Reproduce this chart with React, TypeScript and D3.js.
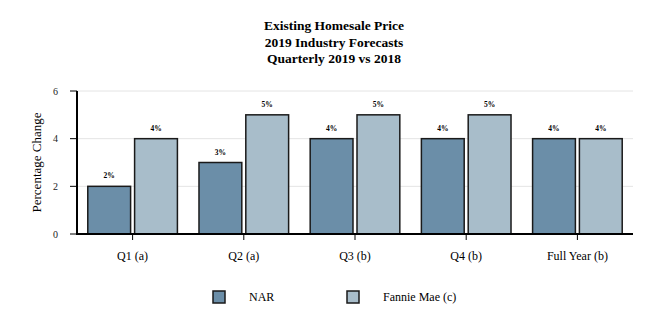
import React from "react";
import * as d3 from "d3";

const categories = ["Q1 (a)", "Q2 (a)", "Q3 (b)", "Q4 (b)", "Full Year (b)"];
const seriesNames = ["NAR", "Fannie Mae (c)"];
const narValues = [2, 3, 4, 4, 4];
const fannieValues = [4, 5, 5, 5, 4];
const yTicks = [0, 2, 4, 6];
const titleLines = ["Existing Homesale Price", "2019 Industry Forecasts", "Quarterly 2019 vs 2018"];
const colors = ["#6b8ea8", "#a8bdca"];

const W = 666, H = 333;
const left = 77, right = 633, top = 91, bottom = 234;
const font = "'Liberation Serif', 'Times New Roman', serif";

export default function App() {
  const x = d3.scaleBand<string>().domain(categories).range([left, right]).paddingInner(0).paddingOuter(0);
  const y = d3.scaleLinear().domain([0, 6]).range([bottom, top]);
  const bw = x.bandwidth();
  const barW = bw * 0.385;
  const gap = bw * 0.036;
  const series = [narValues, fannieValues];
  return (
    <svg width={W} height={H} style={{ position: "absolute", left: 0, top: 0, background: "#fff" }} fontFamily={font}>
      {titleLines.map((t, i) => (
        <text key={i} x={334} y={30 + i * 16.5} textAnchor="middle" fontWeight="bold" fontSize={13.5}>{t}</text>
      ))}
      {yTicks.filter(v => v > 0).map(v => (
        <line key={v} x1={left} x2={right} y1={y(v)} y2={y(v)} stroke="#e4e4e4" strokeWidth={1} />
      ))}
      {yTicks.map(v => (
        <g key={v}>
          <line x1={left - 7} x2={left} y1={y(v)} y2={y(v)} stroke="#000" strokeWidth={1} />
          <text x={left - 19} y={y(v) + 3.5} textAnchor="end" fontSize={10} fill="#222">{v}</text>
        </g>
      ))}
      {categories.map((c, i) => {
        const cx = x(c)! + bw / 2;
        return (
          <g key={c}>
            {series.map((vals, s) => {
              const bx = s === 0 ? cx - gap / 2 - barW : cx + gap / 2;
              return (
                <g key={s}>
                  <rect x={bx} y={y(vals[i])} width={barW} height={bottom - y(vals[i])} fill={colors[s]} stroke="#1a1a1a" strokeWidth={1.5} />
                  <text x={bx + barW / 2} y={y(vals[i]) - 8} textAnchor="middle" fontSize={7.5} fontWeight="bold">{vals[i]}%</text>
                </g>
              );
            })}
            <line x1={cx} x2={cx} y1={bottom} y2={bottom + 6} stroke="#000" strokeWidth={1} />
            <text x={cx} y={bottom + 26} textAnchor="middle" fontSize={12}>{c}</text>
          </g>
        );
      })}
      <line x1={left} x2={left} y1={top} y2={bottom} stroke="#000" strokeWidth={2} />
      <line x1={left - 1} x2={right} y1={bottom} y2={bottom} stroke="#000" strokeWidth={2} />
      <text transform={`translate(41,${(top + bottom) / 2}) rotate(-90)`} textAnchor="middle" fontSize={13}>Percentage Change</text>
      {seriesNames.map((n, i) => {
        const lx = i === 0 ? 213 : 347;
        return (
          <g key={n}>
            <rect x={lx} y={291} width={12} height={12} fill={colors[i]} stroke="#1a1a1a" strokeWidth={1.5} />
            <text x={lx + 36} y={301} fontSize={12}>{n}</text>
          </g>
        );
      })}
    </svg>
  );
}
